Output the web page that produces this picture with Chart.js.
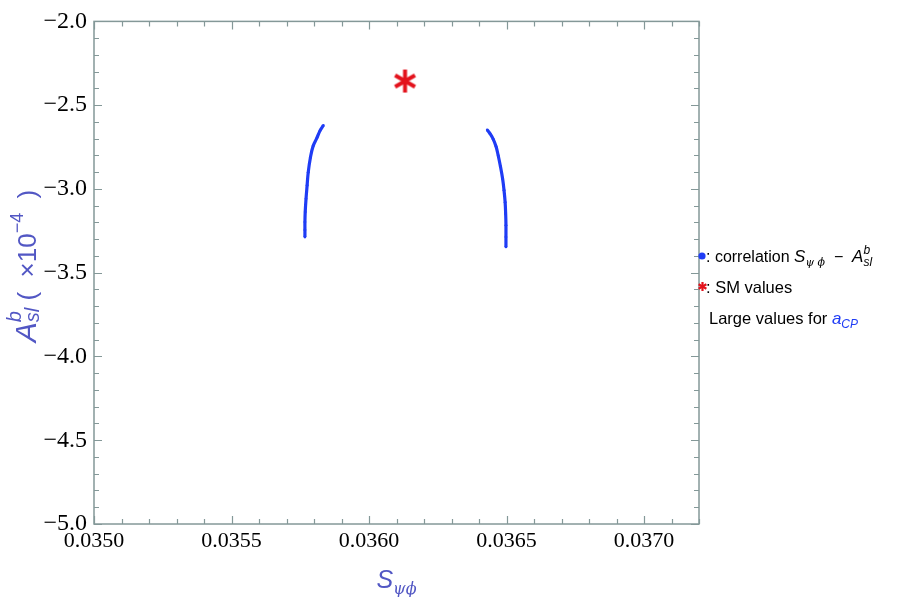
<!DOCTYPE html>
<html>
<head>
<meta charset="utf-8">
<script src="https://cdn.jsdelivr.net/npm/chart.js@4.4.1/dist/chart.umd.min.js"></script>
<style>
  html, body { margin: 0; padding: 0; background: #fff; }
  #wrap { width: 915px; height: 597px; }
</style>
</head>
<body>
<div id="wrap"><canvas id="corrChart" width="915" height="597"></canvas></div>
<script>
'use strict';

// data
const leftArcX  = [0.035834, 0.035822, 0.035811, 0.035797, 0.035787, 0.035779, 0.035775, 0.035771, 0.035768, 0.035767, 0.035767, 0.035767];
const leftArcY  = [-2.621, -2.652, -2.694, -2.743, -2.812, -2.901, -2.978, -3.059, -3.138, -3.198, -3.245, -3.287];
const rightArcX = [0.036430, 0.036440, 0.036452, 0.036462, 0.036470, 0.036478, 0.036486, 0.036491, 0.036495, 0.036497, 0.036498, 0.036498, 0.036498];
const rightArcY = [-2.648, -2.670, -2.704, -2.747, -2.802, -2.866, -2.941, -3.008, -3.079, -3.150, -3.217, -3.287, -3.346];
const smX = [0.036131];
const smY = [-2.356];

const xTicks = [0.0350, 0.0355, 0.0360, 0.0365, 0.0370];
const yTicks = [-5.0, -4.5, -4.0, -3.5, -3.0, -2.5, -2.0];

const blue = '#1f3cf5';
const red = '#e3121c';
const titleColor = '#5257c4';
const frameColor = '#849898';

function pts(xs, ys) {
  return xs.map((x, i) => ({ x: x, y: ys[i] }));
}

function starCanvas(size, lw) {
  const c = document.createElement('canvas');
  c.width = size; c.height = size;
  const g = c.getContext('2d');
  g.strokeStyle = red;
  g.lineWidth = lw;
  const r = size / 2 - 1;
  for (let k = 0; k < 3; k++) {
    const a = Math.PI / 2 + k * Math.PI / 3;
    g.beginPath();
    g.moveTo(size / 2 + r * Math.cos(a), size / 2 + r * Math.sin(a));
    g.lineTo(size / 2 - r * Math.cos(a), size / 2 - r * Math.sin(a));
    g.stroke();
  }
  return c;
}

// text with sub/superscripts, segments: {t, font, dy, color, stack}
function richText(ctx, segs, x, y, align) {
  const pos = [];
  let w = 0, i = 0;
  while (i < segs.length) {
    const s = segs[i];
    ctx.font = s.font;
    const ws = ctx.measureText(s.t).width;
    if (s.stack && i + 1 < segs.length) {
      ctx.font = segs[i + 1].font;
      const wn = ctx.measureText(segs[i + 1].t).width;
      pos.push(w, w);
      w += Math.max(ws, wn);
      i += 2;
    } else {
      pos.push(w);
      w += ws;
      i++;
    }
  }
  const x0 = align === 'center' ? x - w / 2 : x;
  ctx.textAlign = 'left';
  ctx.textBaseline = 'alphabetic';
  segs.forEach((s, k) => {
    ctx.font = s.font;
    ctx.fillStyle = s.color || '#000';
    ctx.fillText(s.t, x0 + pos[k], y + (s.dy || 0));
  });
  return w;
}

const framePlugin = {
  id: 'framePlugin',
  afterDraw(chart) {
    const ctx = chart.ctx;
    const a = chart.chartArea;
    const xs = chart.scales.x, ys = chart.scales.y;
    ctx.save();
    ctx.strokeStyle = frameColor;
    ctx.lineWidth = 1.5;
    ctx.strokeRect(a.left, a.top, a.right - a.left, a.bottom - a.top);

    ctx.lineWidth = 1.2;
    // x ticks (bottom and top)
    for (let k = 0; k <= 22; k++) {
      const v = 0.035 + k * 0.0001;
      const px = Math.round(xs.getPixelForValue(v)) + 0.5;
      const len = (k % 5 === 0) ? 8 : 5;
      ctx.beginPath();
      ctx.moveTo(px, a.bottom); ctx.lineTo(px, a.bottom - len);
      ctx.moveTo(px, a.top); ctx.lineTo(px, a.top + len);
      ctx.stroke();
    }
    // y ticks (left and right)
    for (let k = 0; k <= 30; k++) {
      const v = -5 + k * 0.1;
      const py = Math.round(ys.getPixelForValue(v)) + 0.5;
      const len = (k % 5 === 0) ? 8 : 5;
      ctx.beginPath();
      ctx.moveTo(a.left, py); ctx.lineTo(a.left + len, py);
      ctx.moveTo(a.right, py); ctx.lineTo(a.right - len, py);
      ctx.stroke();
    }

    // x title
    const mid = (a.left + a.right) / 2;
    richText(ctx, [
      { t: 'S', font: 'italic 25px "Liberation Sans"', color: titleColor },
      { t: 'ψϕ', font: 'italic 16px "DejaVu Serif"', dy: 6, color: titleColor }
    ], mid, 588, 'center');

    // y title (rotated)
    ctx.save();
    ctx.translate(36, 266);
    ctx.rotate(-Math.PI / 2);
    richText(ctx, [
      { t: 'A', font: 'italic 30px "Liberation Sans"', color: titleColor },
      { t: 'b', font: 'italic 20px "Liberation Sans"', dy: -15, color: titleColor, stack: true },
      { t: 'sl', font: 'italic 20px "Liberation Sans"', dy: 3, color: titleColor },
      { t: ' (  ×10', font: '26px "Liberation Sans"', color: titleColor },
      { t: '−4', font: '18px "Liberation Sans"', dy: -13, color: titleColor },
      { t: '  )', font: '26px "Liberation Sans"', color: titleColor }
    ], 0, 0, 'center');
    ctx.restore();

    // legend
    const lx = 697;
    ctx.fillStyle = blue;
    ctx.beginPath();
    ctx.arc(lx + 5, 256, 3.6, 0, Math.PI * 2);
    ctx.fill();
    richText(ctx, [
      { t: ': correlation ', font: '16px "Liberation Sans"' },
      { t: 'S', font: 'italic 17px "Liberation Sans"' },
      { t: 'ψ ϕ', font: 'italic 11px "DejaVu Serif"', dy: 4 },
      { t: '  −  ', font: '16px "Liberation Sans"' },
      { t: 'A', font: 'italic 17px "Liberation Sans"' },
      { t: 'b', font: 'italic 12px "Liberation Sans"', dy: -8, stack: true },
      { t: 'sl', font: 'italic 12px "Liberation Sans"', dy: 4 }
    ], lx + 9, 262);
    ctx.drawImage(starCanvas(11, 2.2), lx, 281);
    richText(ctx, [
      { t: ': SM values', font: '16.5px "Liberation Sans"' }
    ], lx + 9, 293);
    richText(ctx, [
      { t: 'Large values for ', font: '16.5px "Liberation Sans"' },
      { t: 'a', font: 'italic 17px "Liberation Sans"', color: blue },
      { t: 'CP', font: 'italic 12px "Liberation Sans"', dy: 4, color: blue }
    ], lx + 12, 324);
    ctx.restore();
  }
};

const fmtMinus = (s) => s.replace('-', '\u2212');

new Chart(document.getElementById('corrChart'), {
  type: 'scatter',
  data: {
    datasets: [
      {
        label: 'left',
        data: pts(leftArcX, leftArcY),
        showLine: true,
        borderColor: blue,
        backgroundColor: blue,
        borderWidth: 3.2,
        tension: 0.4,
        pointRadius: 1.4,
        pointBorderWidth: 0
      },
      {
        label: 'right',
        data: pts(rightArcX, rightArcY),
        showLine: true,
        borderColor: blue,
        backgroundColor: blue,
        borderWidth: 3.2,
        tension: 0.4,
        pointRadius: 1.4,
        pointBorderWidth: 0
      },
      {
        label: 'SM',
        data: pts(smX, smY),
        pointStyle: starCanvas(25, 4),
        pointRadius: 12
      }
    ]
  },
  options: {
    responsive: false,
    animation: false,
    layout: { padding: { left: 0, top: 18, right: 216, bottom: 0 } },
    plugins: {
      legend: { display: false },
      tooltip: { enabled: false }
    },
    scales: {
      x: {
        type: 'linear',
        min: 0.035,
        max: 0.0372,
        afterFit: (s) => { s.height = 73; },
        afterBuildTicks: (s) => { s.ticks = xTicks.map(v => ({ value: v })); },
        grid: { display: false, drawTicks: false },
        border: { display: false },
        ticks: {
          padding: 4,
          color: '#000',
          font: { family: '"Liberation Serif"', size: 22 },
          callback: (v) => v.toFixed(4)
        }
      },
      y: {
        type: 'linear',
        min: -5,
        max: -2,
        afterFit: (s) => { s.width = 94; },
        afterBuildTicks: (s) => { s.ticks = yTicks.map(v => ({ value: v })); },
        grid: { display: false, drawTicks: false },
        border: { display: false },
        ticks: {
          padding: 7,
          color: '#000',
          font: { family: '"Liberation Serif"', size: 24 },
          callback: (v) => fmtMinus(v.toFixed(1))
        }
      }
    }
  },
  plugins: [framePlugin]
});
</script>
</body>
</html>
